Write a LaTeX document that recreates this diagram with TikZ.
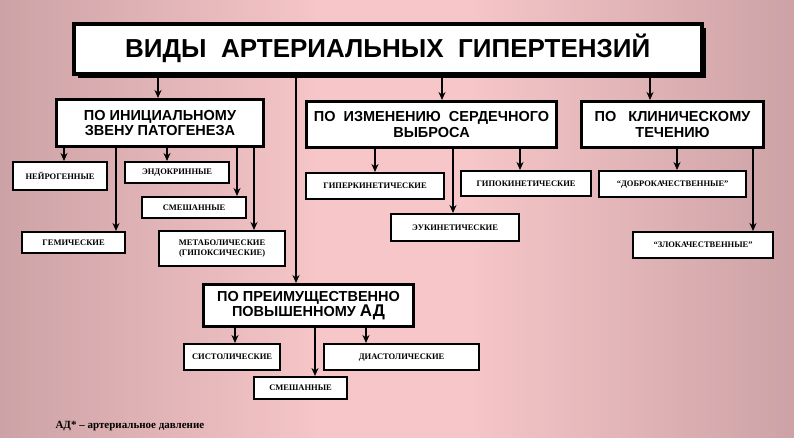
\documentclass[tikz,border=0pt]{standalone}
\usepackage{fontspec}
\setmainfont{Liberation Serif}
\setsansfont{Liberation Sans}
\usetikzlibrary{arrows.meta}
\definecolor{bgdark}{HTML}{C39A9E}
\definecolor{bglight}{HTML}{F6C6C8}
\tikzset{
  head/.style={draw, line width=3pt, fill=white, inner sep=0pt, anchor=north west,
    font=\sffamily\bfseries\fontsize{14.5}{15.5}\selectfont, align=center},
  leaf/.style={draw, line width=2.2pt, fill=white, inner sep=0pt, anchor=north west,
    font=\bfseries\fontsize{8.5}{10}\selectfont, align=center},
  arr/.style={line width=2.2pt, -{Stealth[length=8pt,width=7pt]}}
}
\begin{document}
\begin{tikzpicture}[x=1pt,y=-1pt]
        \useasboundingbox (0,0) rectangle (794,437);
        % background
        \shade[top color=bglight, bottom color=bglight] (0,0) rectangle (794,437);
        \shade[left color=bgdark, right color=bglight, opacity=0.8] (0,0) rectangle (320,437);
        \shade[left color=bglight, right color=bgdark, opacity=0.8] (470,0) rectangle (794,437);

        % title with shadow
        \fill (78,28) rectangle (706,78);
        \node[head, minimum width=628pt, minimum height=50pt, line width=3.5pt,
          font=\sffamily\bfseries\fontsize{26}{28}\selectfont] (title) at (72,22)
          {ВИДЫ \ АРТЕРИАЛЬНЫХ \ ГИПЕРТЕНЗИЙ};

        % groups
        \node[head, minimum width=207pt, minimum height=47pt] (pat) at (55,98)
          {ПО ИНИЦИАЛЬНОМУ\\ЗВЕНУ ПАТОГЕНЕЗА};
        \node[head, minimum width=250pt, minimum height=46pt] (cv) at (305,100)
          {ПО \ ИЗМЕНЕНИЮ \ СЕРДЕЧНОГО\\ВЫБРОСА};
        \node[head, minimum width=182pt, minimum height=46pt] (cl) at (580,100)
          {ПО \ \ КЛИНИЧЕСКОМУ\\ТЕЧЕНИЮ};
        \node[head, minimum width=210pt, minimum height=42pt] (ad) at (202,283)
          {ПО ПРЕИМУЩЕСТВЕННО\\ПОВЫШЕННОМУ \fontsize{17}{18}\selectfont АД};

        % leaves
        \node[leaf, minimum width=94pt, minimum height=28pt] (neur) at (12,161) {НЕЙРОГЕННЫЕ};
        \node[leaf, minimum width=104pt, minimum height=21pt] (endo) at (124,161) {ЭНДОКРИННЫЕ};
        \node[leaf, minimum width=104pt, minimum height=21pt] (mix1) at (141,196) {СМЕШАННЫЕ};
        \node[leaf, minimum width=103pt, minimum height=21pt] (gem) at (21,231) {ГЕМИЧЕСКИЕ};
        \node[leaf, minimum width=126pt, minimum height=35pt] (meta) at (158,230)
          {МЕТАБОЛИЧЕСКИЕ\\(ГИПОКСИЧЕСКИЕ)};
        \node[leaf, minimum width=138pt, minimum height=26pt] (hyper) at (305,172) {ГИПЕРКИНЕТИЧЕСКИЕ};
        \node[leaf, minimum width=130pt, minimum height=25pt] (hypo) at (460,170) {ГИПОКИНЕТИЧЕСКИЕ};
        \node[leaf, minimum width=128pt, minimum height=27pt] (eu) at (390,213) {ЭУКИНЕТИЧЕСКИЕ};
        \node[leaf, minimum width=147pt, minimum height=26pt] (good) at (598,170) {“ДОБРОКАЧЕСТВЕННЫЕ”};
        \node[leaf, minimum width=140pt, minimum height=26pt] (bad) at (632,231) {“ЗЛОКАЧЕСТВЕННЫЕ”};
        \node[leaf, minimum width=96pt, minimum height=26pt] (sys) at (183,343) {СИСТОЛИЧЕСКИЕ};
        \node[leaf, minimum width=155pt, minimum height=26pt] (dia) at (323,343) {ДИАСТОЛИЧЕСКИЕ};
        \node[leaf, minimum width=93pt, minimum height=22pt] (mix2) at (253,376) {СМЕШАННЫЕ};

        % connectors
        \draw[arr] (title.south -| 158,0) -- (pat.north -| 158,0);
        \draw[arr] (title.south -| 442,0) -- (cv.north -| 442,0);
        \draw[arr] (title.south -| 650,0) -- (cl.north -| 650,0);
        \draw[arr] (title.south -| 296,0) -- (ad.north -| 296,0);
        \draw[arr] (pat.south -| 64,0) -- (neur.north -| 64,0);
        \draw[arr] (pat.south -| 167,0) -- (endo.north -| 167,0);
        \draw[arr] (pat.south -| 237,0) -- (mix1.north -| 237,0);
        \draw[arr] (pat.south -| 116,0) -- (gem.north -| 116,0);
        \draw[arr] (pat.south -| 254,0) -- (meta.north -| 254,0);
        \draw[arr] (cv.south -| 375,0) -- (hyper.north -| 375,0);
        \draw[arr] (cv.south -| 520,0) -- (hypo.north -| 520,0);
        \draw[arr] (cv.south -| 453,0) -- (eu.north -| 453,0);
        \draw[arr] (cl.south -| 677,0) -- (good.north -| 677,0);
        \draw[arr] (cl.south -| 753,0) -- (bad.north -| 753,0);
        \draw[arr] (ad.south -| 235,0) -- (sys.north -| 235,0);
        \draw[arr] (ad.south -| 366,0) -- (dia.north -| 366,0);
        \draw[arr] (ad.south -| 315,0) -- (mix2.north -| 315,0);

        % footnote
        \node[anchor=west, font=\bfseries\fontsize{11}{13}\selectfont] (note) at (52,426)
          {АД* – артериальное давление};
\end{tikzpicture}
\end{document}
